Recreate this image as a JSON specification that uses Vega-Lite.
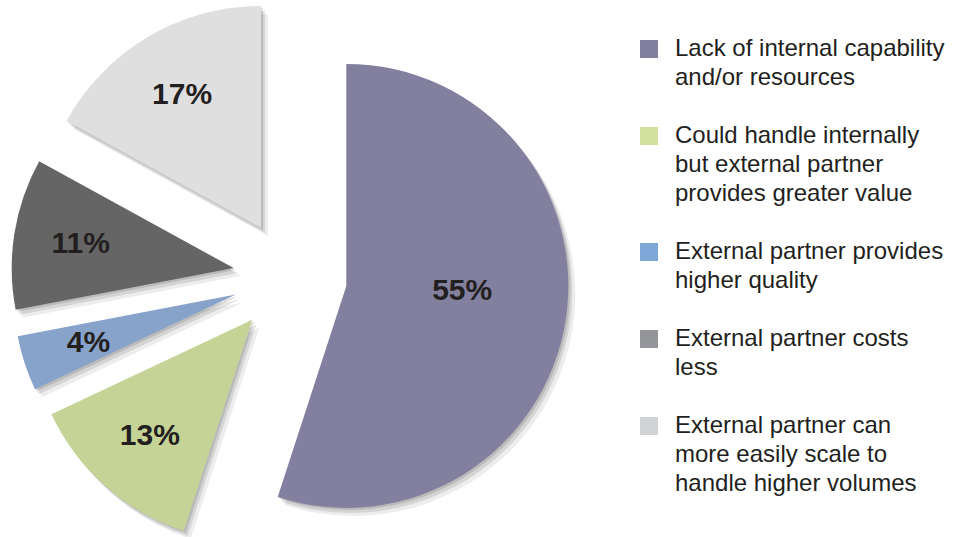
{
  "$schema": "https://vega.github.io/schema/vega-lite/v6.json",
  "width": 961,
  "height": 537,
  "padding": 0,
  "autosize": {"type": "none"},
  "background": "white",
  "config": {"view": {"stroke": null}, "style": {"guide-label": {"lineHeight": 29}}},
  "data": {
    "values": [
      {"category": "Lack of internal capability\nand/or resources", "value": 55, "rank": 1},
      {"category": "Could handle internally\nbut external partner\nprovides greater value", "value": 13, "rank": 2},
      {"category": "External partner provides\nhigher quality", "value": 4, "rank": 3},
      {"category": "External partner costs\nless", "value": 11, "rank": 4},
      {"category": "External partner can\nmore easily scale to\nhandle higher volumes", "value": 17, "rank": 5}
    ]
  },
  "transform": [
    {"stack": "value", "groupby": [], "sort": [{"field": "rank", "order": "ascending"}], "offset": "normalize", "as": ["v0", "v1"]},
    {"calculate": "PI * (datum.v0 + datum.v1)", "as": "mid"},
    {"calculate": "sin(datum.mid)", "as": "ex"},
    {"calculate": "-cos(datum.mid)", "as": "ey"},
    {"calculate": "(datum.v0 + datum.v1) / 2", "as": "vm"},
    {"calculate": "datum.value + '%'", "as": "label"}
  ],
  "encoding": {
    "x": {"field": "ex", "type": "quantitative", "scale": {"domain": [-1, 1], "range": [233, 347], "nice": false}, "axis": null},
    "y": {"field": "ey", "type": "quantitative", "scale": {"domain": [-1, 1], "range": [220, 334], "nice": false}, "axis": null}
  },
  "layer": [
    {
      "mark": {"type": "arc", "outerRadius": 222, "fill": "#000000", "opacity": 0.07, "xOffset": 7, "yOffset": 8},
      "encoding": {
        "theta": {"field": "v0", "type": "quantitative", "scale": {"domain": [0, 1], "range": [0, 6.283185307]}},
        "theta2": {"field": "v1"}
      }
    },
    {
      "mark": {"type": "arc", "outerRadius": 222, "fill": "#000000", "opacity": 0.1, "xOffset": 4, "yOffset": 5},
      "encoding": {
        "theta": {"field": "v0", "type": "quantitative", "scale": {"domain": [0, 1], "range": [0, 6.283185307]}},
        "theta2": {"field": "v1"}
      }
    },
    {
      "mark": {"type": "arc", "outerRadius": 222, "fill": "#000000", "opacity": 0.12, "xOffset": 2, "yOffset": 2},
      "encoding": {
        "theta": {"field": "v0", "type": "quantitative", "scale": {"domain": [0, 1], "range": [0, 6.283185307]}},
        "theta2": {"field": "v1"}
      }
    },
    {
      "mark": {"type": "arc", "outerRadius": 222},
      "encoding": {
        "theta": {"field": "v0", "type": "quantitative", "scale": {"domain": [0, 1], "range": [0, 6.283185307]}},
        "theta2": {"field": "v1"},
        "fill": {
          "condition": [
            {"test": "datum.rank == 1", "value": "#837f9e"},
            {"test": "datum.rank == 2", "value": "#c5d396"},
            {"test": "datum.rank == 3", "value": "#87a3ca"},
            {"test": "datum.rank == 4", "value": "#656565"}
          ],
          "value": "#dfdfe0"
        }
      }
    },
    {
      "mark": {"type": "arc", "outerRadius": 222, "opacity": 0},
      "encoding": {
        "theta": {"field": "v0", "type": "quantitative", "scale": {"domain": [0, 1], "range": [0, 6.283185307]}},
        "theta2": {"field": "v1"},
        "color": {
          "field": "category",
          "type": "nominal",
          "scale": {
            "domain": [
              "Lack of internal capability\nand/or resources",
              "Could handle internally\nbut external partner\nprovides greater value",
              "External partner provides\nhigher quality",
              "External partner costs\nless",
              "External partner can\nmore easily scale to\nhandle higher volumes"
            ],
            "range": ["#837f9e", "#d3df9c", "#7ea8d8", "#939598", "#d1d3d4"]
          },
          "legend": {
            "title": null,
            "orient": "none",
            "legendX": 637,
            "legendY": 37,
            "padding": 0,
            "symbolType": "square",
            "symbolSize": 324,
            "symbolOpacity": 1,
            "symbolStrokeWidth": 0,
            "labelFont": "Liberation Sans",
            "labelFontSize": 24,
            "labelColor": "#231f20",
            "labelLimit": 400,
            "labelOffset": 14,
            "rowPadding": 34,
            "labelExpr": "split(datum.label, '\\n')"
          }
        }
      }
    },
    {
      "transform": [{"filter": "datum.rank != 1"}],
      "mark": {"type": "text", "radius": 155, "font": "Liberation Sans", "fontSize": 30, "fontWeight": "bold", "fill": "#231f20", "align": "center", "baseline": "middle"},
      "encoding": {
        "theta": {"field": "vm", "type": "quantitative", "scale": {"domain": [0, 1], "range": [0, 6.283185307]}},
        "text": {"field": "label"}
      }
    },
    {
      "transform": [{"filter": "datum.rank == 1"}],
      "mark": {"type": "text", "radius": 116, "thetaOffset": -0.11, "font": "Liberation Sans", "fontSize": 30, "fontWeight": "bold", "fill": "#231f20", "align": "center", "baseline": "middle"},
      "encoding": {
        "theta": {"field": "vm", "type": "quantitative", "scale": {"domain": [0, 1], "range": [0, 6.283185307]}},
        "text": {"field": "label"}
      }
    }
  ]
}
